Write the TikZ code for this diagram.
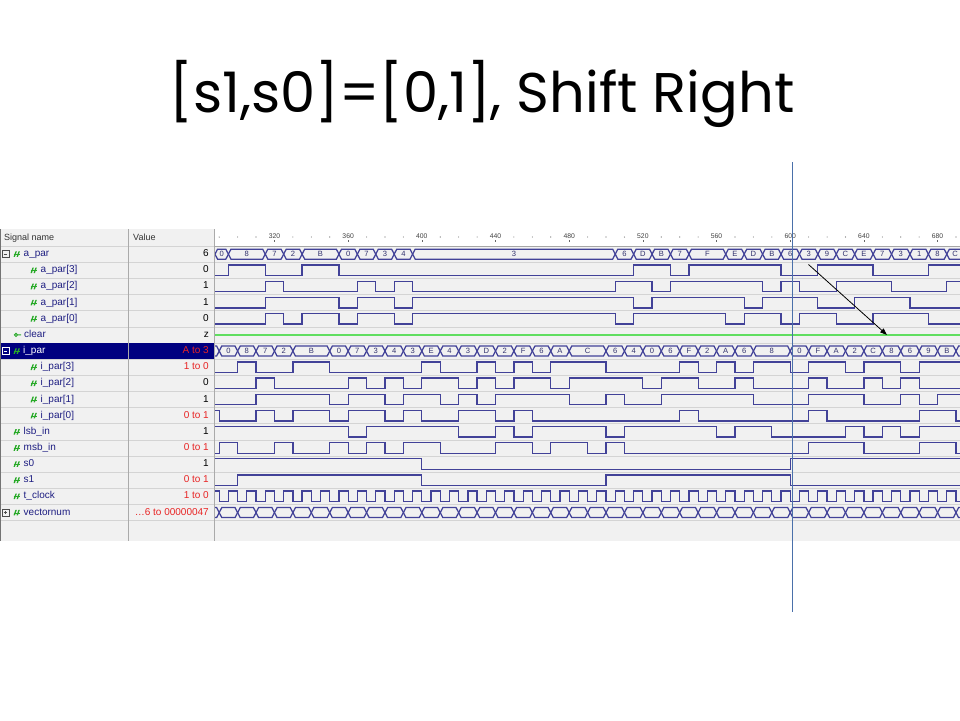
\documentclass[tikz,border=0pt]{standalone}
\usepackage{graphicx}
\usepackage{fontspec}
\setmainfont{Liberation Sans}
\newfontfamily\titlefont{Poppins}
\usetikzlibrary{arrows.meta}

\definecolor{wavecol}{RGB}{66,66,152}
\definecolor{buscol}{RGB}{50,50,110}
\definecolor{gridcol}{RGB}{212,212,212}
\definecolor{panecol}{RGB}{241,241,241}
\definecolor{namecol}{RGB}{30,30,130}
\definecolor{redval}{RGB}{232,36,36}
\definecolor{selcol}{RGB}{0,0,128}
\definecolor{clrcol}{RGB}{96,222,96}
\definecolor{iconcol}{RGB}{40,170,40}
\definecolor{cursorcol}{RGB}{74,112,170}

% one level per slot, #2 moves the edges (0.5 = registered outputs)
\newcommand{\bitwave}[4]{%
  \pgfmathsetmacro{\wc}{238+16.15*(#1)}%
  \draw[wave] ({-1+#2},\wc) \foreach \val [count=\n from -1] in #4 {
      -- ({\n+#2},{\wc+5.3-10.6*mod(floor(\val/2^(#3)),2)})
      -- ({\n+1+#2},{\wc+5.3-10.6*mod(floor(\val/2^(#3)),2)})};%
}
% bus row: start/end/label
\newcommand{\busrow}[3]{%
  \pgfmathsetmacro{\bc}{238+16.15*(#1)}%
  \foreach \ta/\tb/\lab [count=\k] in {#3} {
    \draw[wave] (\ta,\bc) -- ({\ta+0.14},{\bc-5}) -- ({\tb-0.14},{\bc-5})
      -- (\tb,\bc) -- ({\tb-0.14},{\bc+5}) -- ({\ta+0.14},{\bc+5}) -- cycle;
    \node[buslabel] (#2\k) at ({(\ta+\tb)/2},\bc) {\lab};
  }%
}
\newcommand{\pinicon}[2]{%
  \fill[iconcol] (#1,{#2+2.8}) -- ({#1+2},{#2-2.8}) -- ({#1+3.4},{#2-2.8}) -- ({#1+1.4},{#2+2.8}) -- cycle
                 ({#1+3},{#2+2.8}) -- ({#1+5},{#2-2.8}) -- ({#1+6.4},{#2-2.8}) -- ({#1+4.4},{#2+2.8}) -- cycle;%
  \draw[iconcol,line width=0.8pt] (#1,{#2+0.4}) -- ({#1+6.4},{#2+0.4});%
}

\begin{document}
\begin{tikzpicture}[x=1pt,y=-1pt,
    wave/.style={draw=wavecol,line width=1.25pt,line join=miter},
    buslabel/.style={font=\fontsize{7.6}{8}\selectfont,text=buscol,inner sep=0pt},
    signame/.style={anchor=west,font=\fontsize{10}{11}\selectfont,inner sep=0pt,text height=7pt,text depth=2pt},
    sigval/.style={anchor=east,font=\fontsize{10}{11}\selectfont,inner sep=0pt,text height=7pt,text depth=2pt},
    rulerlabel/.style={font=\fontsize{6.8}{7}\selectfont,text=black!75,fill=white,inner sep=0.6pt}]
    \useasboundingbox[fill=white] (0,0) rectangle (960,720);

    \node (title) at (482,94) {\titlefont\resizebox{625pt}{!}{[s1,s0]=[0,1], Shift Right}};

    % panes
    \fill[panecol] (0,229) rectangle (960,541);
    \fill[white] (214,229) rectangle (960,246);
    \foreach \k in {0,...,17}
        \draw[gridcol,line width=0.6pt] (0,{246.1+16.15*\k}) -- (960,{246.1+16.15*\k});
    \fill[selcol] (0,343) rectangle (213.5,359.2);
    \draw[gridcol!80!black,line width=0.6pt] (128.5,229) -- (128.5,541) (214,229) -- (214,541);
    \draw[black!55,line width=0.6pt] (0.6,229) -- (0.6,541);
    \draw[black!35,line width=1.2pt] (214,246.3) -- (960,246.3);

    \node[signame,text=black!80,font=\fontsize{9}{10}\selectfont] (hdrname) at (4,237.5) {Signal name};
    \node[signame,text=black!80,font=\fontsize{9}{10}\selectfont] (hdrvalue) at (133,237.5) {Value};

    \foreach \r/\ix/\nm/\nc/\vl/\vc in {
        1/23.5/a\_par/namecol/6/black, 2/40.5/a\_par[3]/namecol/0/black,
        3/40.5/a\_par[2]/namecol/1/black, 4/40.5/a\_par[1]/namecol/1/black,
        5/40.5/a\_par[0]/namecol/0/black, 6/24/clear/namecol/z/black,
        7/23/i\_par/white/A to 3/redval, 8/40.5/i\_par[3]/namecol/1 to 0/redval,
        9/40.5/i\_par[2]/namecol/0/black, 10/40.5/i\_par[1]/namecol/1/black,
        11/40.5/i\_par[0]/namecol/0 to 1/redval, 12/23.5/lsb\_in/namecol/1/black,
        13/23.5/msb\_in/namecol/0 to 1/redval, 14/23.5/s0/namecol/1/black,
        15/23.5/s1/namecol/0 to 1/redval, 16/23.5/t\_clock/namecol/1 to 0/redval,
        17/23.5/vectornum/namecol/{\ldots6 to 00000047}/redval} {
        \node[signame,text=\nc] (sig\r) at (\ix,{238+16.15*\r}) {\nm};
        \node[sigval,text=\vc] (val\r) at (209,{238+16.15*\r}) {\vl};
    }
    % little icons
    \foreach \r in {2,3,4,5,8,9,10,11} \pinicon{30.5}{238+16.15*\r};
    \foreach \r in {1,7,12,13,14,15,16,17} \pinicon{13.5}{238+16.15*\r};
    \draw[iconcol,line width=1pt] (16,334.9) circle (1.6pt) (17.6,334.9) -- (21,334.9);
    \foreach \r/\bx in {1/black!70,7/white,17/black!70} {
        \draw[\bx,line width=0.6pt] (2,{238+16.15*\r-3.5}) rectangle (9,{238+16.15*\r+3.5});
        \draw[\bx,line width=0.7pt] (3.7,{238+16.15*\r}) -- (7.3,{238+16.15*\r});
    }
    \draw[black!70,line width=0.7pt] (5.5,{238+16.15*17-1.8}) -- (5.5,{238+16.15*17+1.8});

    % waveforms, one slot = 10 ns
    \begin{scope}[shift={(219.2,0)},x=18.42pt]
        \clip (-0.228,229) rectangle (40.22,521);
        \foreach \n in {0,...,40} \fill[black!60] (\n,237) circle (0.55pt);
        \foreach \t [count=\j from 0] in {320,360,...,680} {
            \node[rulerlabel] (tick\t) at ({3+4*\j},236.2) {\t};
            \draw[black!60,line width=0.5pt] ({3+4*\j},240.3) -- ({3+4*\j},242.3);
        }

        \def\aparvals{0,8,8,7,2,11,11,0,7,3,4,3,3,3,3,3,3,3,3,3,3,3,6,13,11,7,15,15,14,13,11,6,3,9,12,14,7,3,1,8,12}
        \def\iparvals{1,0,8,7,2,11,11,0,7,3,4,3,14,4,3,13,2,15,6,10,12,12,6,4,0,6,15,2,10,6,8,8,0,15,10,2,12,8,6,9,11,10}
        \def\lsbvals{1,1,1,1,1,1,1,1,0,1,1,1,1,1,0,0,1,0,1,1,1,1,0,1,1,1,1,1,0,1,1,0,0,0,0,1,0,1,0,1,1,1}
        \def\msbvals{0,1,0,0,1,0,0,1,0,1,0,1,1,0,0,0,1,1,0,1,1,0,1,0,0,0,0,0,0,0,0,0,0,1,1,1,0,0,0,1,1,0}
        \def\szerovals{1,1,1,1,1,1,1,1,1,1,1,1,0,0,0,0,0,0,0,0,0,0,0,0,0,0,0,0,0,0,0,0,1,1,1,1,1,1,1,1,1,1}
        \def\sonevals{0,0,1,1,1,1,1,1,1,1,1,1,0,0,0,0,0,0,0,0,0,0,1,1,1,1,1,1,1,1,1,1,0,0,0,0,0,0,0,0,0,0}

        \busrow{1}{apar}{-0.23/0.5/0, 0.5/2.5/8, 2.5/3.5/7, 3.5/4.5/2, 4.5/6.5/B, 6.5/7.5/0,
            7.5/8.5/7, 8.5/9.5/3, 9.5/10.5/4, 10.5/21.5/3, 21.5/22.5/6, 22.5/23.5/D, 23.5/24.5/B,
            24.5/25.5/7, 25.5/27.5/F, 27.5/28.5/E, 28.5/29.5/D, 29.5/30.5/B, 30.5/31.5/6,
            31.5/32.5/3, 32.5/33.5/9, 33.5/34.5/C, 34.5/35.5/E, 35.5/36.5/7, 36.5/37.5/3,
            37.5/38.5/1, 38.5/39.5/8, 39.5/40.4/C}
        \foreach \b in {3,2,1,0} {\bitwave{5-\b}{0.5}{\b}{\aparvals}}

        \draw[clrcol,line width=1.2pt] (-1,334.9) -- (41,334.9);

        \busrow{7}{ipar}{-1/0/{}, 0/1/0, 1/2/8, 2/3/7, 3/4/2, 4/6/B, 6/7/0, 7/8/7, 8/9/3, 9/10/4,
            10/11/3, 11/12/E, 12/13/4, 13/14/3, 14/15/D, 15/16/2, 16/17/F, 17/18/6, 18/19/A,
            19/21/C, 21/22/6, 22/23/4, 23/24/0, 24/25/6, 25/26/F, 26/27/2, 27/28/A, 28/29/6,
            29/31/8, 31/32/0, 32/33/F, 33/34/A, 34/35/2, 35/36/C, 36/37/8, 37/38/6, 38/39/9,
            39/40/B, 40/41/{}}
        \foreach \b in {3,2,1,0} {\bitwave{11-\b}{0}{\b}{\iparvals}}

        \bitwave{12}{0}{0}{\lsbvals}
        \bitwave{13}{0}{0}{\msbvals}
        \bitwave{14}{0}{0}{\szerovals}
        \bitwave{15}{0}{0}{\sonevals}

        % t_clock
        \draw[wave] (-1,{496.4-5.3}) \foreach \n in {-1,...,40} {
            -- (\n,{496.4-5.3}) -- (\n,{496.4+5.3}) -- ({\n+0.5},{496.4+5.3}) -- ({\n+0.5},{496.4-5.3})}
            -- (41,{496.4-5.3});

        % vectornum
        \foreach \n in {-1,...,40}
            \draw[wave] (\n,512.6) -- ({\n+0.14},507.6) -- ({\n+0.86},507.6) -- ({\n+1},512.6)
                -- ({\n+0.86},517.6) -- ({\n+0.14},517.6) -- cycle;
    \end{scope}

    \coordinate (curtop) at (792,162);
    \coordinate (curbot) at (792,612);
    \draw[cursorcol,line width=0.9pt] (curtop) -- (curbot);

    \coordinate (arrowtail) at (808.5,264.5);
    \coordinate (arrowtip) at (887,335);
    \draw[-{Triangle[length=7pt,width=5pt]},line width=0.8pt] (arrowtail) -- (arrowtip);
\end{tikzpicture}
\end{document}
